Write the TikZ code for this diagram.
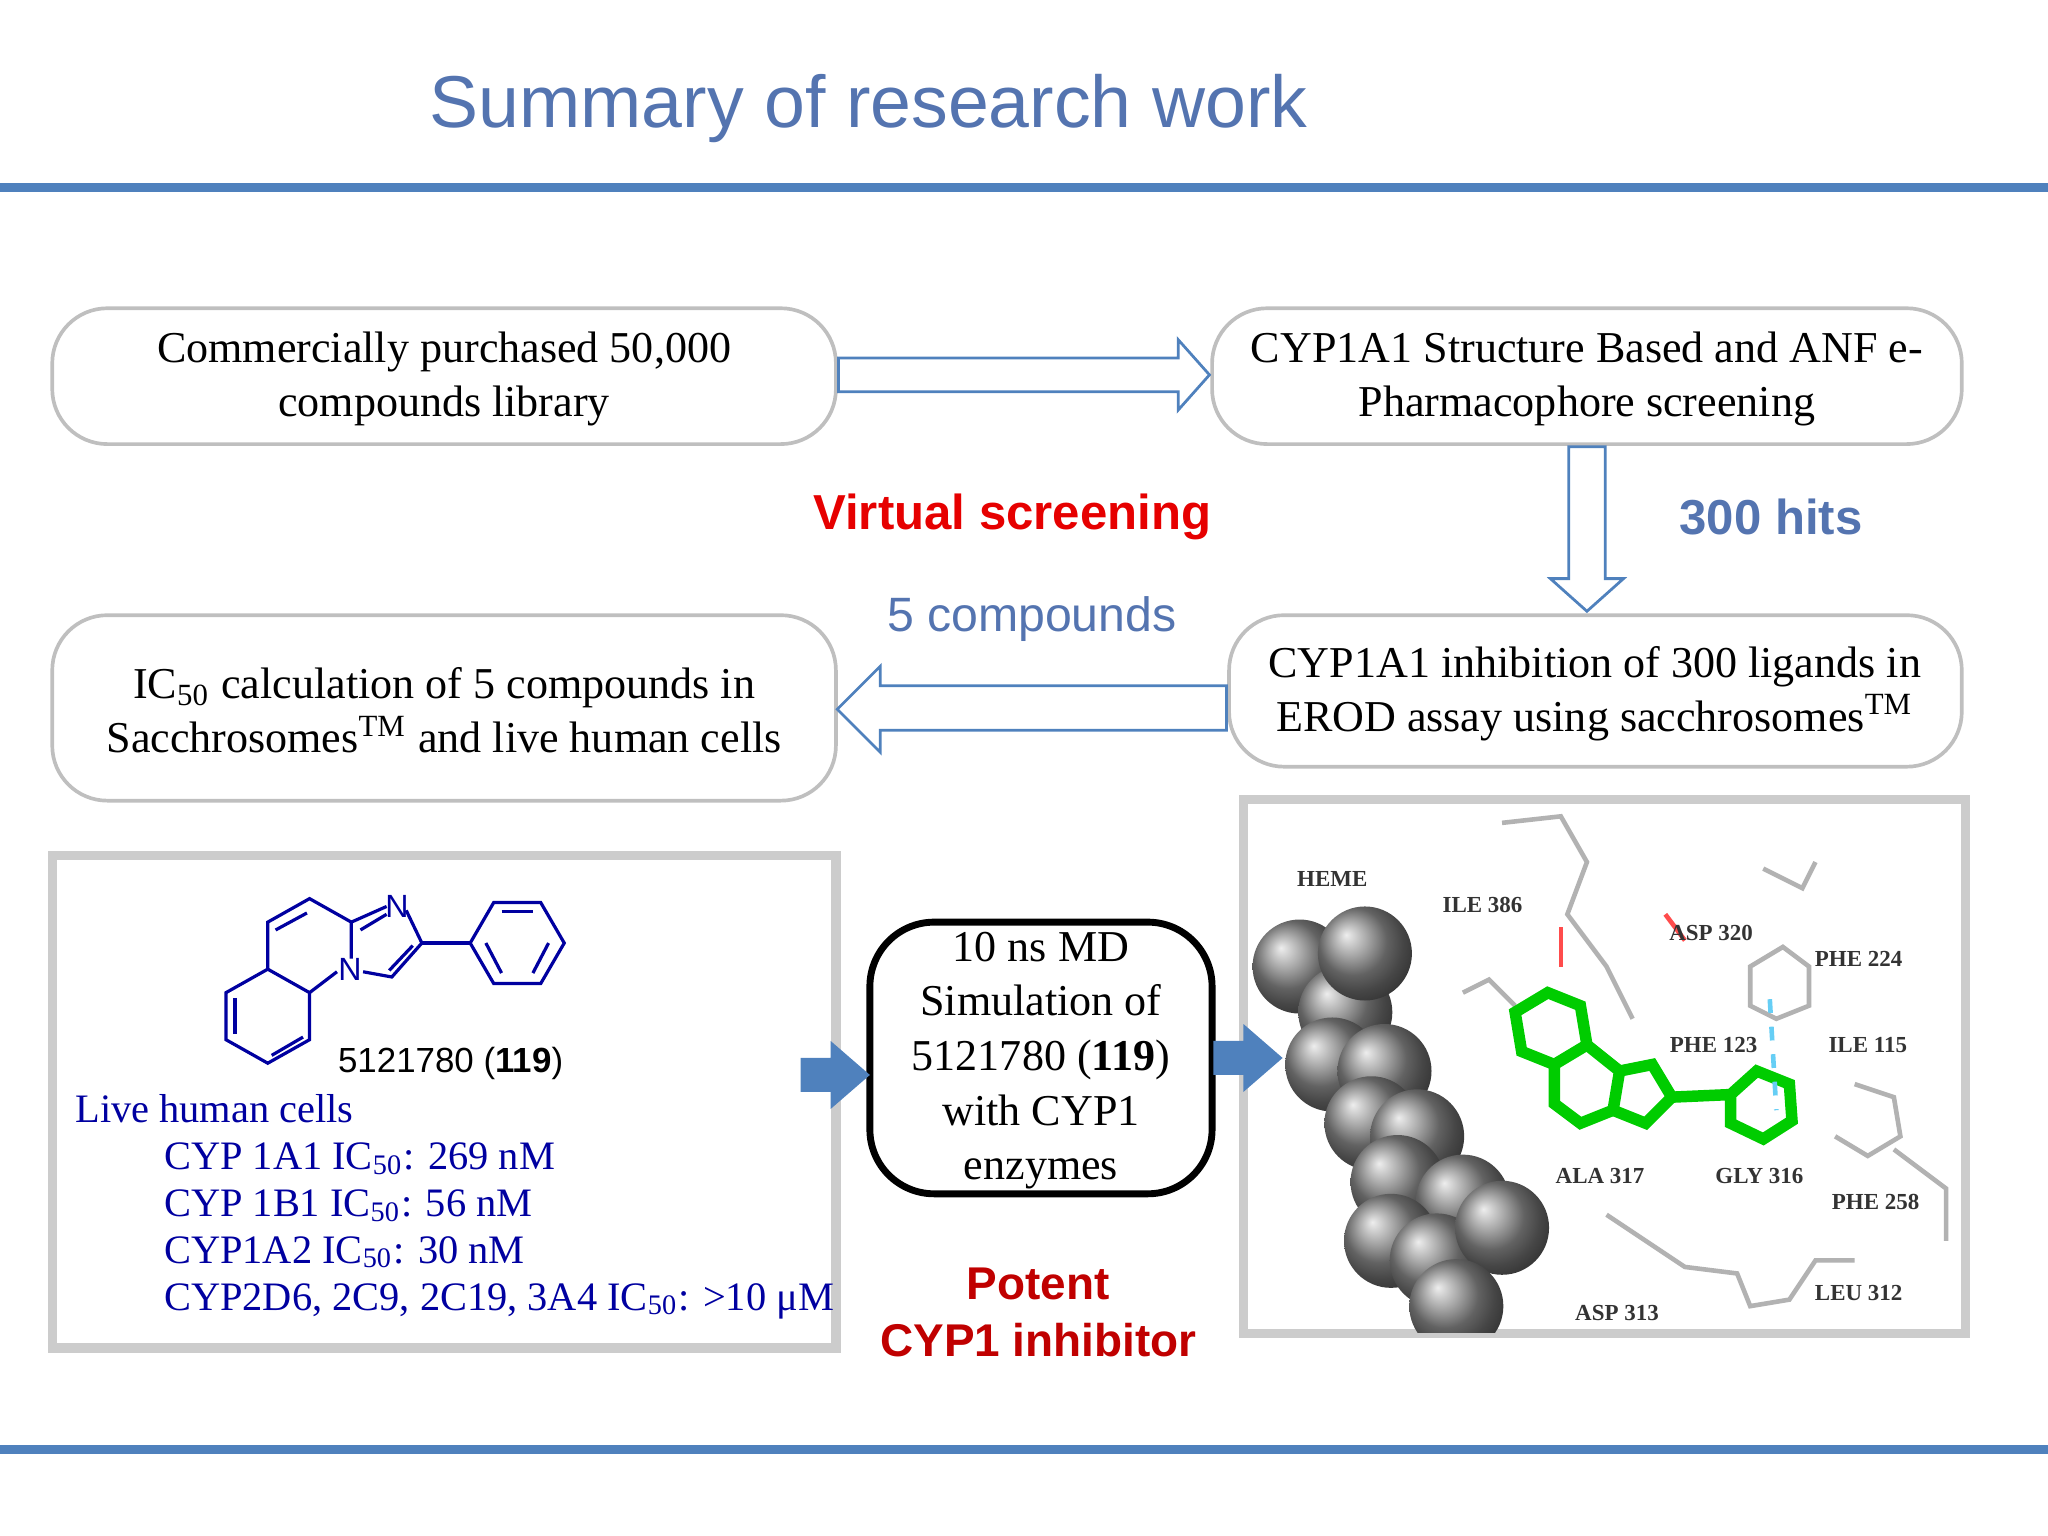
\documentclass[tikz,border=0pt]{standalone}
\usepackage{fontspec}
\setmainfont{Liberation Serif}
\newfontfamily\sans{Liberation Sans}
\usetikzlibrary{arrows.meta,shapes.arrows}
\definecolor{bl}{RGB}{79,129,189}
\definecolor{tt}{RGB}{84,116,176}
\definecolor{nv}{RGB}{0,0,160}
\definecolor{rd}{RGB}{230,0,0}
\definecolor{drd}{RGB}{192,0,0}
\begin{document}
\begin{tikzpicture}[x=0.1mm,y=-0.1mm,
 box/.style={draw=black!25,rounded corners=12,line width=0.8pt,align=center,font=\fontsize{9.6}{11.8}\selectfont},
 hol/.style={draw=bl,line width=0.6pt,fill=white},
 res/.style={font=\bfseries\fontsize{5}{6}\selectfont,text=black!80},
 blk/.style={fill=bl,draw=none}]
\useasboundingbox (0,0) rectangle (1568,1176);
\node[font=\sans\fontsize{16}{19}\selectfont,text=tt] (title) at (665,83) {Summary of research work};
\fill[bl] (0,140) rectangle (1568,147);
\fill[bl] (0,1106) rectangle (1568,1113);
% boxes
\draw[box] (40,236) rectangle (640,340);
\node[box,draw=none] (b1) at (340,290) {Commercially purchased 50,000\\compounds library};
\draw[box] (928,236) rectangle (1502,340);
\node[box,draw=none] (b2) at (1215,290) {CYP1A1 Structure Based and ANF e-\\Pharmacophore screening};
\draw[box] (941,471) rectangle (1502,587);
\node[box,draw=none] (b3) at (1221,531) {CYP1A1 inhibition of 300 ligands in\\EROD assay using sacchrosomes\textsuperscript{TM}};
\draw[box] (40,471) rectangle (640,613);
\node[box,draw=none] (b4) at (340,544) {IC\textsubscript{50} calculation of 5 compounds in\\Sacchrosomes\textsuperscript{TM} and live human cells};
% hollow arrows
\draw[hol] (642,274) -- (902,274) -- (902,260) -- (926,287) -- (902,314) -- (902,300) -- (642,300) -- cycle;
\draw[hol] (1201,342) -- (1229,342) -- (1229,443) -- (1243,443) -- (1215,468) -- (1187,443) -- (1201,443) -- cycle;
\draw[hol] (939,525) -- (674,525) -- (674,510) -- (641,543) -- (674,576) -- (674,559) -- (939,559) -- cycle;
\node[font=\sans\bfseries\fontsize{10.7}{13}\selectfont,text=rd] (vs) at (775,396) {Virtual screening};
\node[font=\sans\bfseries\fontsize{10.7}{13}\selectfont,text=tt] (hits) at (1356,396) {300 hits};
\node[font=\sans\fontsize{10.5}{13}\selectfont,text=tt] (five) at (790,474) {5 compounds};
% left panel
\draw[black!20,line width=2pt] (40,655) rectangle (640,1032);
\begin{scope}[nv,line width=0.7pt]
 \draw (173,760) -- (205,742) -- (237,760) -- (237,796) -- (205,814) -- (173,796) -- cycle;
 \draw (180,764) -- (180,792);
 \draw (208,808) -- (232,794);
 \draw (205,742) -- (205,706) -- (237,688) -- (269,706) -- (269,734);
 \draw (211,712) -- (235,699);
 \draw (237,760) -- (258,744);
 \draw (269,706) -- (296,694);
 \draw (276,712) -- (296,700);
 \draw (311,697) -- (323,722) -- (300,748) -- (278,744);
 \draw (316,724) -- (298,743);
 \draw (323,722) -- (360,722);
 \draw (360,722) -- (378,691) -- (414,691) -- (432,722) -- (414,753) -- (378,753) -- cycle;
 \draw (384,698) -- (408,698); \draw (420,722) -- (408,745); \draw (372,722) -- (384,745);
 \node[font=\sans\fontsize{7}{8}\selectfont,inner sep=0] at (304,694) {N};
 \node[font=\sans\fontsize{7}{8}\selectfont,inner sep=0] at (268,742) {N};
\end{scope}
\node[font=\sans\fontsize{7.6}{10}\selectfont] (id) at (345,814) {5121780 (\textbf{119})};
\node[anchor=west,text=nv,font=\fontsize{8.8}{10.2}\selectfont,align=left,inner sep=0] (cells) at (57,924) {Live human cells\\
\hspace*{6.8mm}CYP 1A1 IC\textsubscript{50}: 269 nM\\
\hspace*{6.8mm}CYP 1B1 IC\textsubscript{50}: 56 nM\\
\hspace*{6.8mm}CYP1A2 IC\textsubscript{50}: 30 nM\\
\hspace*{6.8mm}CYP2D6, 2C9, 2C19, 3A4 IC\textsubscript{50}: >10 μM};
% MD box
\draw[line width=1.5pt,rounded corners=14] (666,706) rectangle (928,914);
\node[align=center,font=\fontsize{9.6}{11.9}\selectfont] (md) at (797,812) {10 ns MD\\Simulation of\\5121780 (\textbf{119})\\with CYP1\\enzymes};
\node[font=\sans\bfseries\fontsize{10}{12.5}\selectfont,text=drd,align=center] (pot) at (795,1005) {Potent\\CYP1 inhibitor};
% docking picture
\draw[black!20,line width=2pt,fill=white] (952,612) rectangle (1505,1021);
\begin{scope}
 \clip (953,613) rectangle (1504,1020);
 \draw[black!30,line width=1pt] (1150,630) -- (1195,625) -- (1215,660) -- (1200,700) -- (1230,740) -- (1250,780);
 \draw[black!30,line width=1pt] (1350,665) -- (1380,680) -- (1390,660);
 \draw[black!30,line width=1pt] (1340,740) -- (1365,725) -- (1385,740) -- (1385,770) -- (1360,780) -- (1340,770) -- cycle;
 \draw[black!30,line width=1pt] (1420,830) -- (1450,840) -- (1455,870) -- (1430,885) -- (1405,870);
 \draw[black!30,line width=1pt] (1230,930) -- (1260,950) -- (1290,970) -- (1330,975) -- (1340,1000) -- (1370,995) -- (1390,965) -- (1420,965);
 \draw[black!30,line width=1pt] (1450,880) -- (1490,910) -- (1490,950);
 \draw[black!30,line width=1pt] (1120,760) -- (1140,750) -- (1160,770);
 \draw[red!70,line width=1pt] (1195,710) -- (1195,740);
 \draw[red!70,line width=1pt] (1275,700) -- (1290,720);
 \foreach \x/\y in {995/740, 1030/775, 1045/730, 1020/815, 1060/820, 1050/860, 1085/870, 1070/905, 1120/920, 1065/950, 1100/965, 1150/940, 1115/1000}
  {\shade[ball color=black!45] (\x,\y) circle (36);}
 \draw[green!80!black,line width=2.5pt] (1160,775) -- (1185,760) -- (1210,770) -- (1215,800) -- (1190,815) -- (1165,805) -- cycle;
 \draw[green!80!black,line width=2.5pt] (1215,800) -- (1240,820) -- (1235,850) -- (1210,860) -- (1190,845) -- (1190,815);
 \draw[green!80!black,line width=2.5pt] (1240,820) -- (1265,815) -- (1280,840) -- (1260,860) -- (1235,850);
 \draw[green!80!black,line width=2.5pt] (1280,840) -- (1325,838) -- (1345,820) -- (1370,830) -- (1372,858) -- (1350,872) -- (1325,860) -- (1325,838);
 \draw[cyan!60,dashed,line width=1pt] (1355,765) -- (1360,850);
\end{scope}
\draw[blk] (613,810) -- (636,810) -- (636,797) -- (666,823) -- (636,849) -- (636,836) -- (613,836) -- cycle;
\draw[blk] (929,797) -- (952,797) -- (952,784) -- (982,810) -- (952,836) -- (952,823) -- (929,823) -- cycle;
\node[res] (heme) at (1020,673) {HEME};
\node[res] (i386) at (1135,693) {ILE 386};
\node[res] (a320) at (1310,714) {ASP 320};
\node[res] (p224) at (1423,734) {PHE 224};
\node[res] (p123) at (1312,800) {PHE 123};
\node[res] (i115) at (1430,800) {ILE 115};
\node[res] (a317) at (1225,900) {ALA 317};
\node[res] (g316) at (1347,900) {GLY 316};
\node[res] (p258) at (1436,920) {PHE 258};
\node[res] (l312) at (1423,990) {LEU 312};
\node[res] (a313) at (1238,1005) {ASP 313};
\end{tikzpicture}
\end{document}
